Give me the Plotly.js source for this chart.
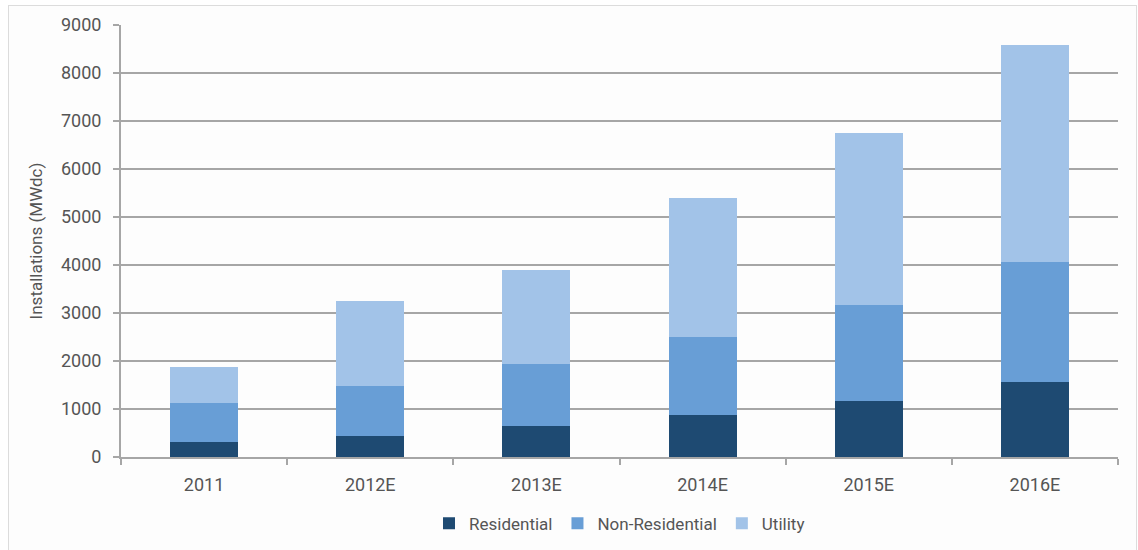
<!DOCTYPE html>
<html>
<head>
<meta charset="utf-8">
<script src="https://cdn.plot.ly/plotly-3.0.1.min.js"></script>
<style>
html,body{margin:0;padding:0;background:#fff;}
#wrap{position:relative;width:1138px;height:550px;}
#chart{position:absolute;left:0;top:0;width:1138px;height:550px;}
#frame{position:absolute;left:8px;top:5px;width:1127px;height:560px;border:1px solid #dcdcdc;background:#fdfdfd;}
</style>
</head>
<body>
<div id="wrap"><div id="frame"></div><div id="chart"></div></div>
<script>
const categories = ["2011", "2012E", "2013E", "2014E", "2015E", "2016E"];
const residential = [310, 440, 650, 880, 1170, 1560];
const nonResidential = [820, 1030, 1290, 1630, 2000, 2500];
const utility = [750, 1770, 1960, 2890, 3580, 4520];
const yTicks = [0, 1000, 2000, 3000, 4000, 5000, 6000, 7000, 8000, 9000];

const fontFam = 'Roboto, "Liberation Sans", sans-serif';
const traces = [
  {name: "Residential", x: categories, y: residential, type: "bar", marker: {color: "#1e4a72"}},
  {name: "Non-Residential", x: categories, y: nonResidential, type: "bar", marker: {color: "#689ed6"}},
  {name: "Utility", x: categories, y: utility, type: "bar", marker: {color: "#a2c3e8"}}
];
const layout = {
  width: 1138, height: 550,
  paper_bgcolor: "rgba(0,0,0,0)", plot_bgcolor: "rgba(0,0,0,0)",
  margin: {l: 121, r: 20, t: 25, b: 93, autoexpand: false},
  barmode: "stack", bargap: 0.59,
  font: {family: fontFam, size: 18, color: "#555"},
  showlegend: true,
  legend: {orientation: "h", x: 0.5, xanchor: "center", y: -0.113, yanchor: "top", font: {size: 17, color: "#555"}, traceorder: "normal", itemwidth: 30},
  xaxis: {
    type: "category", showgrid: false, showline: true, linecolor: "#a6a6a6", linewidth: 2,
    ticks: "outside", ticklen: 6, tickcolor: "#a6a6a6", tickwidth: 2, tickson: "boundaries",
    tickfont: {size: 18, color: "#555"}, zeroline: false, ticklabelstandoff: 10, automargin: false
  },
  yaxis: {
    range: [0, 9000], tickvals: yTicks, ticktext: yTicks.map(String),
    showgrid: true, gridcolor: "#a6a6a6", gridwidth: 2,
    showline: true, linecolor: "#a6a6a6", linewidth: 2,
    ticks: "outside", ticklen: 6, tickcolor: "#a6a6a6", tickwidth: 2,
    tickfont: {size: 18, color: "#555"}, zeroline: false, ticklabelstandoff: 8, automargin: false,
    title: {text: "Installations (MWdc)", font: {size: 17, color: "#555"}, standoff: 14}
  }
};
Plotly.newPlot("chart", traces, layout, {displayModeBar: false, staticPlot: true});
</script>
</body>
</html>
